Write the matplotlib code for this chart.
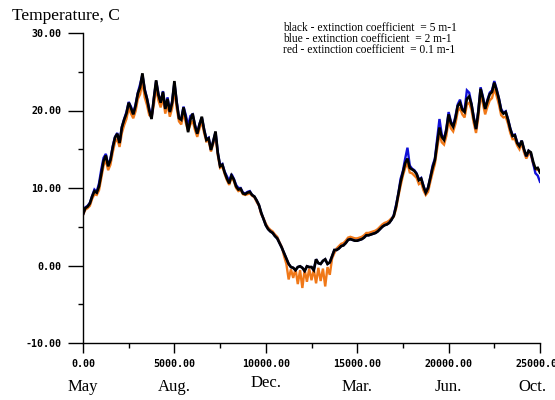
import numpy as np
import matplotlib
matplotlib.use("Agg")
import matplotlib.pyplot as plt
from matplotlib.ticker import MultipleLocator, FuncFormatter

# time axis (model time steps), one value every 125 units
step = 125
black = [6.6, 7.4, 7.6, 8.0, 8.9, 9.6, 9.4, 10.2, 11.8, 13.5,
         14.2, 12.8, 13.6, 15.2, 16.5, 17.0, 15.8, 17.8, 18.8, 19.6,
         21.0, 20.3, 19.5, 20.6, 22.2, 23.0, 24.8, 22.6, 21.5, 20.0,
         18.9, 21.5, 23.9, 22.0, 21.0, 22.4, 20.2, 21.5, 19.8, 21.0,
         23.8, 21.0, 19.0, 18.8, 20.4, 19.0, 17.2, 18.8, 19.6, 18.0,
         17.0, 18.2, 19.2, 17.5, 16.2, 16.4, 14.9, 16.0, 17.3, 14.5,
         12.8, 13.0, 12.0, 11.2, 10.6, 11.6, 11.1, 10.2, 9.8, 9.9,
         9.3, 9.2, 9.4, 9.5, 9.1, 8.9, 8.4, 7.8, 6.8, 6.0,
         5.2, 4.7, 4.4, 4.2, 3.8, 3.5, 2.9, 2.3, 1.6, 0.9,
         0.2, -0.2, -0.3, -0.6, -0.2, -0.1, -0.3, -0.7, -0.1, -0.2,
         -0.2, -0.6, 0.8, 0.3, 0.2, 0.6, 0.8, 0.2, 0.4, 1.2,
         2.0, 2.0, 2.2, 2.5, 2.6, 2.9, 3.3, 3.4, 3.3, 3.2,
         3.2, 3.3, 3.4, 3.6, 3.9, 3.9, 4.0, 4.1, 4.2, 4.4,
         4.7, 5.0, 5.2, 5.3, 5.5, 5.9, 6.4, 7.6, 9.2, 10.8,
         12.0, 13.2, 13.8, 12.6, 12.4, 12.2, 11.8, 11.0, 11.2, 10.2,
         9.4, 10.0, 11.3, 12.6, 13.6, 15.8, 17.8, 16.6, 16.2, 17.4,
         19.5, 18.4, 17.9, 19.0, 20.6, 21.0, 20.1, 19.8, 21.5, 21.8,
         20.8, 19.0, 17.6, 19.8, 22.8, 21.6, 20.2, 21.2, 22.1, 22.4,
         23.6, 22.6, 21.5, 20.0, 19.6, 19.8, 18.8, 17.6, 16.7, 16.8,
         15.8, 15.4, 16.1, 15.0, 14.1, 14.8, 14.6, 13.4, 12.5, 12.6,
         12.0]
blue = [6.6, 7.5, 7.7, 8.1, 9.0, 9.8, 9.5, 10.6, 12.4, 13.9,
        14.4, 13.0, 13.7, 15.4, 16.6, 17.1, 15.9, 17.9, 18.9, 19.8,
        21.1, 20.5, 19.6, 20.8, 22.3, 23.4, 24.6, 22.8, 21.6, 20.2,
        19.0, 21.6, 23.8, 22.2, 21.1, 22.5, 20.3, 21.7, 19.9, 21.2,
        23.6, 21.2, 19.1, 19.0, 20.5, 19.4, 18.0, 19.3, 19.5, 18.2,
        17.1, 18.3, 19.1, 17.6, 16.3, 16.5, 15.0, 16.1, 17.2, 14.6,
        12.9, 13.1, 12.1, 11.5, 10.9, 11.8, 11.2, 10.4, 10.0, 10.0,
        9.4, 9.3, 9.5, 9.6, 9.1, 8.9, 8.4, 7.8, 6.8, 6.0,
        5.2, 4.7, 4.4, 4.2, 3.8, 3.5, 2.9, 2.3, 1.6, 0.9,
        0.2, -0.2, -0.3, -0.6, -0.2, -0.1, -0.3, -0.7, -0.1, -0.2,
        -0.2, -0.6, 0.8, 0.3, 0.2, 0.6, 0.8, 0.2, 0.4, 1.2,
        2.0, 2.0, 2.2, 2.5, 2.6, 2.9, 3.3, 3.4, 3.3, 3.2,
        3.2, 3.3, 3.4, 3.6, 3.9, 3.9, 4.0, 4.1, 4.2, 4.4,
        4.7, 5.0, 5.2, 5.3, 5.5, 5.9, 6.5, 7.8, 9.3, 11.2,
        12.2, 13.8, 15.2, 12.9, 12.5, 12.3, 11.9, 11.1, 11.3, 10.3,
        9.4, 10.1, 11.4, 12.9, 13.8, 16.4, 18.9, 16.9, 16.3, 17.7,
        19.8, 18.6, 18.0, 19.3, 20.8, 21.4, 20.2, 20.1, 22.6, 22.3,
        20.9, 19.2, 17.7, 20.0, 23.0, 21.8, 20.3, 21.4, 22.3, 22.6,
        23.8, 22.8, 21.6, 20.2, 19.7, 19.9, 18.9, 17.7, 16.8, 16.9,
        15.9, 15.5, 16.1, 15.0, 14.1, 14.8, 14.5, 13.2, 11.9, 11.6,
        10.8]
red = [6.5, 7.2, 7.4, 7.7, 8.6, 9.2, 9.1, 9.7, 11.3, 12.9,
       13.6, 12.3, 13.0, 14.6, 15.9, 16.3, 15.3, 17.1, 18.1, 18.9,
       20.3, 19.6, 19.0, 19.9, 21.5, 22.1, 23.8, 21.7, 20.7, 19.4,
       19.2, 20.7, 23.0, 21.3, 20.4, 21.7, 19.6, 20.8, 19.2, 20.3,
       22.8, 20.3, 18.6, 18.2, 19.7, 18.4, 17.4, 18.2, 18.7, 17.5,
       16.6, 17.7, 18.6, 17.1, 16.0, 16.1, 14.7, 15.7, 16.7, 14.2,
       12.6, 12.8, 11.8, 11.0, 10.4, 11.4, 10.9, 10.0, 9.6, 9.7,
       9.2, 9.1, 9.2, 9.3, 9.0, 8.8, 8.2, 7.7, 6.6, 6.1,
       5.4, 4.9, 4.6, 4.4, 4.0, 3.7, 3.0, 2.4, 1.2, 0.2,
       -1.8, -0.5, -1.6, -0.4, -2.4, -0.6, -2.9, -0.5, -2.1, -0.4,
       -1.9, -0.5, -2.3, -0.3, -2.0, -0.4, -2.7, -0.2, -1.2, 0.9,
       1.6, 2.2, 2.5, 2.8, 2.9, 3.2, 3.6, 3.7, 3.6, 3.5,
       3.5, 3.6, 3.7, 3.9, 4.2, 4.2, 4.3, 4.4, 4.5, 4.7,
       5.0, 5.3, 5.5, 5.6, 5.8, 6.1, 6.3, 7.3, 8.9, 10.3,
       11.6, 12.6, 13.2, 12.0, 11.9, 11.6, 11.3, 10.5, 10.7, 9.7,
       9.1, 9.5, 10.8, 12.0, 13.1, 15.1, 17.0, 15.9, 15.6, 16.7,
       18.8, 17.7, 17.3, 18.3, 19.9, 20.3, 19.5, 19.1, 20.8, 21.0,
       20.1, 18.4, 17.1, 19.1, 22.0, 20.9, 19.5, 20.5, 21.3, 21.6,
       22.8, 21.9, 20.8, 19.4, 19.1, 19.2, 18.3, 17.1, 16.3, 16.3,
       15.5, 15.0, 15.8, 14.6, 13.8, 14.4, 14.3, 13.1, 12.3, 12.4,
       12.3]

month_pos = [0, 5000, 10000, 15000, 20000, 25000]
month_lbl = ["May", "Aug.", "Dec.", "Mar.", "Jun.", "Oct."]
legend_lines = ["black - extinction coefficient  = 5 m-1",
                "blue - extinction coefficient  = 2 m-1",
                "red - extinction coefficient  = 0.1 m-1"]

t = np.arange(len(black)) * step

W, H = 555, 400
fig = plt.figure(figsize=(W / 100, H / 100), dpi=100)
ax = fig.add_axes([83 / W, 57 / H, (540 - 83) / W, (343 - 33) / H])

ax.plot(t, red, color="#f07818", lw=1.7, solid_joinstyle="miter")
ax.plot(t, blue, color="#1010d8", lw=1.7, solid_joinstyle="miter")
ax.plot(t, black, color="black", lw=1.9, solid_joinstyle="miter")

ax.set_xlim(0, 25000)
ax.set_ylim(-10, 30)
for s in ("top", "right"):
    ax.spines[s].set_visible(False)
for s in ("left", "bottom"):
    ax.spines[s].set_linewidth(1.0)

fmt = FuncFormatter(lambda v, p: "%.2f" % v)
ax.xaxis.set_major_locator(MultipleLocator(5000))
ax.xaxis.set_minor_locator(MultipleLocator(2500))
ax.yaxis.set_major_locator(MultipleLocator(10))
ax.yaxis.set_minor_locator(MultipleLocator(5))
ax.xaxis.set_major_formatter(fmt)
ax.yaxis.set_major_formatter(fmt)
ax.tick_params(axis="y", which="major", direction="out", length=10.5, width=1.0, pad=5)
ax.tick_params(axis="y", which="minor", direction="out", length=3.6, width=1.0)
ax.tick_params(axis="x", which="major", direction="out", length=7.2, width=1.0, pad=4)
ax.tick_params(axis="x", which="minor", direction="out", length=3.6, width=1.0)
for lab in ax.get_xticklabels() + ax.get_yticklabels():
    lab.set_fontfamily("DejaVu Sans Mono")
    lab.set_fontweight("bold")
    lab.set_fontsize(7.2)

serif = ["Liberation Serif", "DejaVu Serif"]
for pos, lbl in zip(month_pos, month_lbl):
    xf = (83 + pos / 25000 * (540 - 83)) / W
    if lbl == "Oct.":
        xf -= 8 / W
    yoff = 4 / H if lbl == "Dec." else 0
    fig.text(xf, 1 - 387 / H + yoff, lbl, ha="center", va="center",
             fontsize=12, family=serif)

fig.text(12 / W, 1 - 16 / H, "Temperature, C", ha="left", va="center",
         fontsize=12.5, family=serif)
for k, line in enumerate(legend_lines):
    fig.text(283 / W, 1 - (28 + 11 * k) / H, line, ha="left", va="center",
             fontsize=8.3, family=serif)

fig.savefig("out.png", dpi=100)
